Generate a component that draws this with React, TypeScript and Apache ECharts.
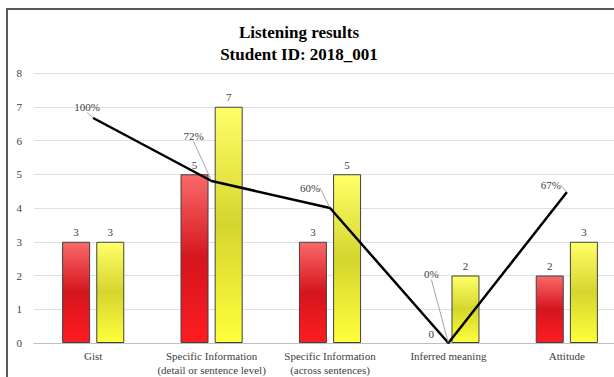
import React, { useEffect, useRef } from "react";
import * as echarts from "echarts";

const categories = [
  "Gist",
  "Specific Information\n(detail or sentence level)",
  "Specific Information\n(across sentences)",
  "Inferred meaning",
  "Attitude",
];
const redValues = [3, 5, 3, 0, 2];
const yellowValues = [3, 7, 5, 2, 3];
const percentValues = [1.0, 0.72, 0.6, 0, 0.67];
const yTicks = [0, 1, 2, 3, 4, 5, 6, 7, 8];
const pctLabelOffsets = [
  [-6, -11],
  [-18, -45],
  [-20, -20],
  [-17, -69],
  [-16, -7],
];

const FONT = "Liberation Serif";

export default function App() {
  const ref = useRef<HTMLDivElement>(null);
  useEffect(() => {
    const chart = echarts.init(ref.current!, null, { renderer: "svg" });
    const redGrad = new echarts.graphic.LinearGradient(0, 0, 0, 1, [
      { offset: 0, color: "#f96a6a" },
      { offset: 0.5, color: "#d5151d" },
      { offset: 1, color: "#ff1c22" },
    ]);
    const yellowGrad = new echarts.graphic.LinearGradient(0, 0, 0, 1, [
      { offset: 0, color: "#ffff68" },
      { offset: 0.5, color: "#d6d52e" },
      { offset: 1, color: "#ffff3c" },
    ]);
    const barLabel = {
      show: true,
      position: "top",
      distance: 4,
      fontFamily: FONT,
      fontSize: 11,
      color: "#404040",
    };
    const toItems = (vals: number[]) =>
      vals.map((v) => (v === 0 ? { value: v, itemStyle: { borderWidth: 0 } } : v));
    chart.setOption({
      animation: false,
      backgroundColor: "#ffffff",
      textStyle: { fontFamily: FONT },
      title: {
        text: "Listening results\nStudent ID: 2018_001",
        left: 294,
        textAlign: "center",
        top: 16,
        textStyle: {
          fontFamily: FONT,
          fontWeight: "bold",
          fontSize: 17,
          lineHeight: 22,
          color: "#000000",
        },
      },
      grid: { left: 34, right: 14, top: 73, bottom: 33 },
      xAxis: {
        type: "category",
        data: categories,
        axisTick: { show: false },
        axisLine: { lineStyle: { color: "#bfbfbf", width: 1 } },
        axisLabel: {
          fontFamily: FONT,
          fontSize: 11,
          lineHeight: 14,
          color: "#404040",
          margin: 6,
          interval: 0,
        },
      },
      yAxis: [
        {
          type: "value",
          min: yTicks[0],
          max: yTicks[yTicks.length - 1],
          interval: 1,
          axisLine: { show: false },
          axisTick: { show: false },
          splitLine: { lineStyle: { color: "#e0e0e0", width: 1 } },
          axisLabel: {
            fontFamily: FONT,
            fontSize: 11,
            color: "#404040",
            margin: 12,
          },
        },
        {
          type: "value",
          min: 0,
          max: 1.2,
          show: false,
          axisLine: { show: false },
          splitLine: { show: false },
        },
      ],
      series: [
        {
          type: "bar",
          data: toItems(redValues),
          barWidth: 28,
          barGap: "22%",
          itemStyle: { color: redGrad, borderColor: "#404040", borderWidth: 1 },
          label: barLabel,
        },
        {
          type: "bar",
          data: toItems(yellowValues),
          barWidth: 28,
          itemStyle: { color: yellowGrad, borderColor: "#404040", borderWidth: 1 },
          label: barLabel,
        },
        {
          type: "line",
          yAxisIndex: 1,
          data: percentValues,
          symbol: "circle",
          symbolSize: 1,
          itemStyle: { color: "#000000" },
          lineStyle: { color: "#000000", width: 2.5 },
          z: 5,
          label: {
            show: true,
            position: "inside",
            fontFamily: FONT,
            fontSize: 11,
            color: "#404040",
            formatter: (p: any) => Math.round(p.value * 100) + "%",
          },
          labelLine: { show: true, lineStyle: { color: "#a6a6a6", width: 1 } },
          labelLayout: (p: any) => ({
            dx: pctLabelOffsets[p.dataIndex][0],
            dy: pctLabelOffsets[p.dataIndex][1],
          }),
        },
      ],
    });
    return () => chart.dispose();
  }, []);
  return (
    <div
      style={{
        position: "fixed",
        left: 0,
        top: 0,
        width: 614,
        height: 377,
        overflow: "hidden",
        background: "#fff",
      }}
    >
      <div ref={ref} style={{ width: 640, height: 377 }} />
      <div
        style={{
          position: "absolute",
          left: 6,
          top: 8,
          width: 1000,
          height: 1000,
          borderLeft: "2px solid #595959",
          borderTop: "2px solid #595959",
          pointerEvents: "none",
        }}
      />
    </div>
  );
}
